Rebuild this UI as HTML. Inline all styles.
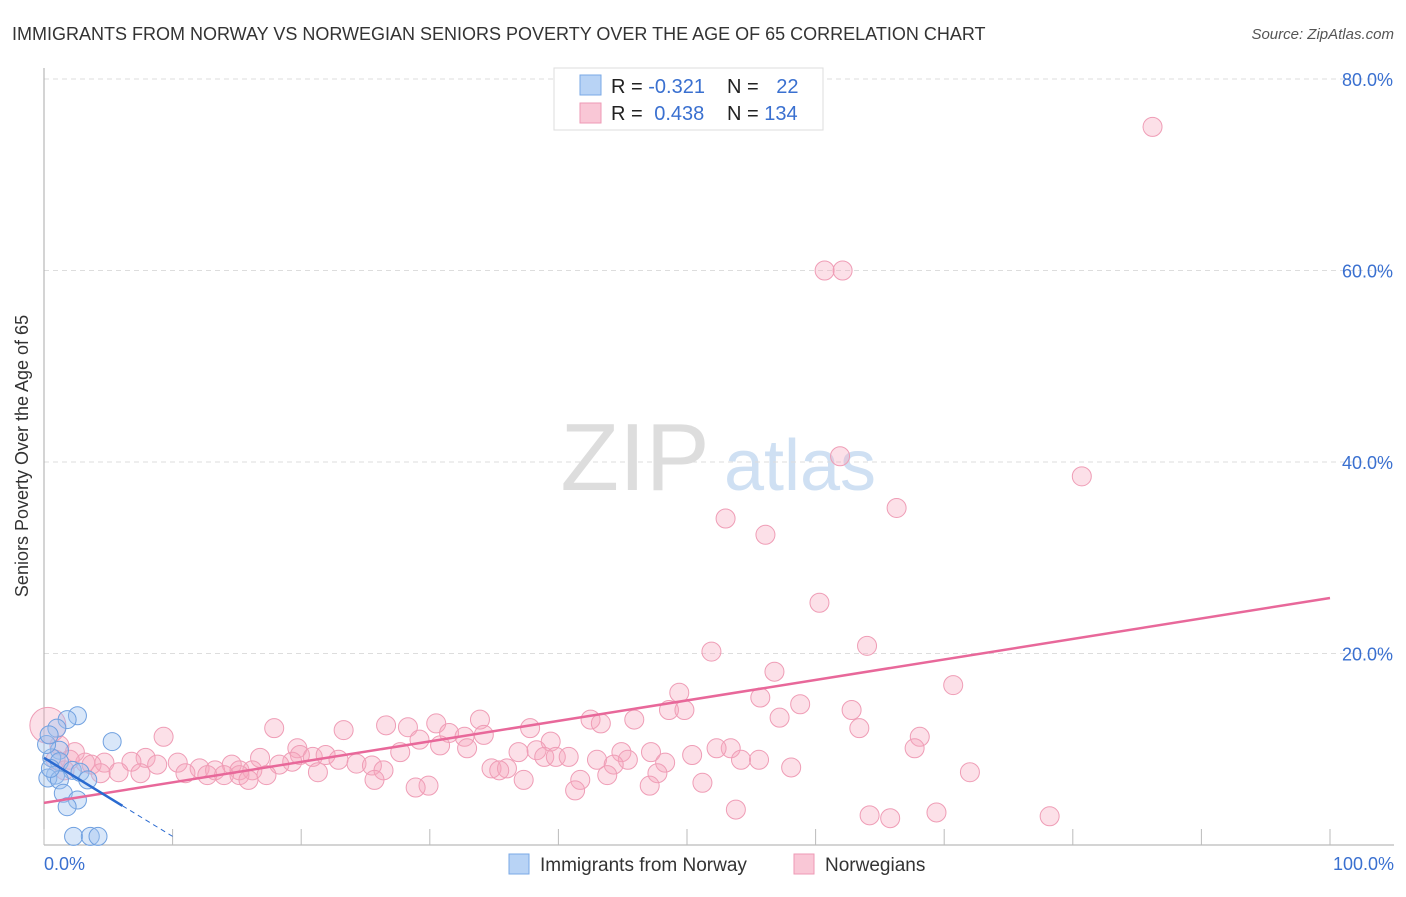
<!DOCTYPE html>
<html><head><meta charset="utf-8"><style>
body{margin:0;background:#fff;font-family:"Liberation Sans",sans-serif;}
svg text{font-family:"Liberation Sans",sans-serif;}
</style></head><body>
<svg id="chart" width="1406" height="892">
<text x="12" y="40" font-size="18" fill="#333">IMMIGRANTS FROM NORWAY VS NORWEGIAN SENIORS POVERTY OVER THE AGE OF 65 CORRELATION CHART</text>
<text x="1394" y="39" font-size="15" fill="#555" font-style="italic" text-anchor="end">Source: ZipAtlas.com</text>
<g><text x="635" y="490" font-size="96" fill="#ddd" font-family="Liberation Serif" text-anchor="middle">ZIP</text><text x="800" y="490" font-size="72" fill="#cfe0f3" text-anchor="middle">atlas</text></g>
<g id="grid"></g><g id="axes"></g><g id="marks"></g>
<text x="28" y="456" font-size="18" fill="#333" text-anchor="middle" transform="rotate(-90 28 456)">Seniors Poverty Over the Age of 65</text>
<g>
<rect x="554" y="68" width="269" height="62" fill="#fff" stroke="#ddd"/>
<rect x="580" y="75" width="21" height="20" fill="#b8d3f5" stroke="#7aa8e6"/>
<rect x="580" y="103" width="21" height="20" fill="#f9c7d6" stroke="#ee9ab5"/>
<text x="611" y="93" font-size="20" fill="#222">R = <tspan fill="#3a70d0">-0.321</tspan></text>
<text x="727" y="93" font-size="20" fill="#222">N = <tspan fill="#3a70d0" dx="12">22</tspan></text>
<text x="611" y="120" font-size="20" fill="#222">R = <tspan fill="#3a70d0" dx="6">0.438</tspan></text>
<text x="727" y="120" font-size="20" fill="#222">N = <tspan fill="#3a70d0">134</tspan></text>
</g>
<g>
<rect x="509" y="854" width="20" height="20" fill="#b8d3f5" stroke="#7aa8e6"/>
<text x="540" y="871" font-size="19" fill="#333">Immigrants from Norway</text>
<rect x="794" y="854" width="20" height="20" fill="#f9c7d6" stroke="#ee9ab5"/>
<text x="825" y="871" font-size="19" fill="#333">Norwegians</text>
</g>
</svg>
<script>
const yTicks=[20,40,60,80];
const xTickLabels=["0.0%","100.0%"];
const blueX=[2.6,1.8,1.0,5.3,1.2,0.6,1.2,2.2,2.8,0.9,0.3,1.2,3.4,1.5,2.6,1.8,2.3,3.6,4.2,0.5,0.2,0.4];
const blueY=[13.5,13.1,12.2,10.8,9.9,9.1,8.7,7.8,7.6,7.3,7.0,6.8,6.8,5.4,4.7,4.0,0.9,0.9,0.9,8.0,10.5,11.5];
const pinkX=[86.2,60.7,62.1,61.9,80.7,66.3,53.0,56.1,60.3,64.0,51.9,56.8,70.7,49.4,55.7,58.8,48.6,49.8,62.8,57.2,45.9,42.5,43.3,33.9,30.5,26.6,28.3,17.9,23.3,37.8,63.4,31.5,32.7,34.2,9.3,29.2,68.1,39.4,30.8,32.9,19.7,53.4,52.3,67.7,44.9,47.2,38.3,36.9,27.7,50.4,19.9,20.9,21.9,38.9,39.8,40.8,45.4,43.0,16.8,7.9,54.2,55.6,22.9,24.3,25.5,19.3,18.3,14.6,10.4,8.8,6.8,4.7,3.2,48.3,44.3,58.1,12.1,13.3,15.2,16.2,34.8,36.0,35.4,26.4,21.3,11.0,12.7,14.0,15.2,17.3,7.5,5.8,72.0,47.7,43.8,41.7,37.3,15.9,25.7,51.2,47.1,29.9,28.9,41.3,53.8,64.2,65.8,69.4,78.2,1.2,2.4,3.7,2.0,1.6,4.4,0.9];
const pinkY=[75.0,60.0,60.0,40.6,38.5,35.2,34.1,32.4,25.3,20.8,20.2,18.1,16.7,15.9,15.4,14.7,14.1,14.1,14.1,13.3,13.1,13.1,12.7,13.1,12.7,12.5,12.3,12.2,12.0,12.2,12.2,11.7,11.3,11.5,11.3,11.0,11.3,10.8,10.4,10.1,10.1,10.1,10.1,10.1,9.7,9.7,9.9,9.7,9.7,9.4,9.4,9.2,9.4,9.2,9.2,9.2,8.9,8.9,9.1,9.1,8.9,8.9,8.9,8.5,8.3,8.7,8.4,8.4,8.6,8.4,8.7,8.6,8.6,8.6,8.4,8.1,8.0,7.8,7.8,7.8,8.0,8.0,7.8,7.8,7.6,7.5,7.3,7.3,7.3,7.3,7.5,7.6,7.6,7.5,7.3,6.8,6.8,6.8,6.8,6.5,6.2,6.2,6.0,5.7,3.7,3.1,2.8,3.4,3.0,10.4,9.7,8.4,8.9,7.8,7.5,8.9];
const pinkTrend=[4.4,25.8];
const blueTrend=[9.1,-0.82];
const NS="http://www.w3.org/2000/svg";
const X0=44,X1=1330,Y0=845,PXY=9.575;
const sx=v=>X0+(X1-X0)*v/100, sy=v=>Y0-v*PXY;
function mk(t,a,p){const e=document.createElementNS(NS,t);for(const k in a)e.setAttribute(k,a[k]);p.appendChild(e);return e;}
const grid=document.getElementById('grid'),axes=document.getElementById('axes'),marks=document.getElementById('marks');
yTicks.forEach(t=>{
 const l=mk('line',{x1:X0,x2:1394,y1:sy(t),y2:sy(t),stroke:'#ddd','stroke-dasharray':'5,4'},grid);
 
 
 const tx=mk('text',{x:1393,y:sy(t)+7,'font-size':18,fill:'#3a70d0','text-anchor':'end'},axes);
 tx.textContent=t.toFixed(1)+'%';
 
 
});
const ya=mk('line',{x1:X0,x2:X0,y1:68,y2:Y0,stroke:'#aaa'},axes);


const xa=mk('line',{x1:X0,x2:1394,y1:Y0,y2:Y0,stroke:'#aaa'},axes);


for(let i=0;i<=10;i++){
 const t=mk('line',{x1:sx(i*10),x2:sx(i*10),y1:829,y2:Y0,stroke:'#bbb'},axes);
 
 
}
[[0,'start',44],[1,'end',1394]].forEach(([i,a,x])=>{
 const t=mk('text',{x:x,y:870,'font-size':18,fill:'#3a70d0','text-anchor':a},axes);
 t.textContent=xTickLabels[i];
 
 
});
pinkX.forEach((v,i)=>{
 const c=mk('circle',{cx:sx(v),cy:sy(pinkY[i]),r:9.5,fill:'rgba(245,165,190,0.35)',stroke:'#ef9db6','stroke-width':1},marks);
 
 
});
const big=mk('circle',{cx:sx(0.3),cy:sy(12.5),r:18,fill:'rgba(245,165,190,0.35)',stroke:'#ef9db6'},marks);


blueX.forEach((v,i)=>{
 const c=mk('circle',{cx:sx(v),cy:sy(blueY[i]),r:9,fill:'rgba(160,195,240,0.4)',stroke:'#6fa0e0','stroke-width':1},marks);
 
 
});
const pl=mk('line',{x1:sx(0),y1:sy(pinkTrend[0]),x2:sx(100),y2:sy(pinkTrend[1]),stroke:'#e8689a','stroke-width':2.5},marks);


const bl=mk('line',{x1:sx(0),y1:sy(blueTrend[0]),x2:sx(6.1),y2:sy(blueTrend[0]+blueTrend[1]*6.1),stroke:'#2a6ad0','stroke-width':2.5},marks);


const bd=mk('line',{x1:sx(6.1),y1:sy(blueTrend[0]+blueTrend[1]*6.1),x2:sx(10),y2:sy(blueTrend[0]+blueTrend[1]*10),stroke:'#2a6ad0','stroke-width':1,'stroke-dasharray':'5,4'},marks);


</script>
</body></html>
